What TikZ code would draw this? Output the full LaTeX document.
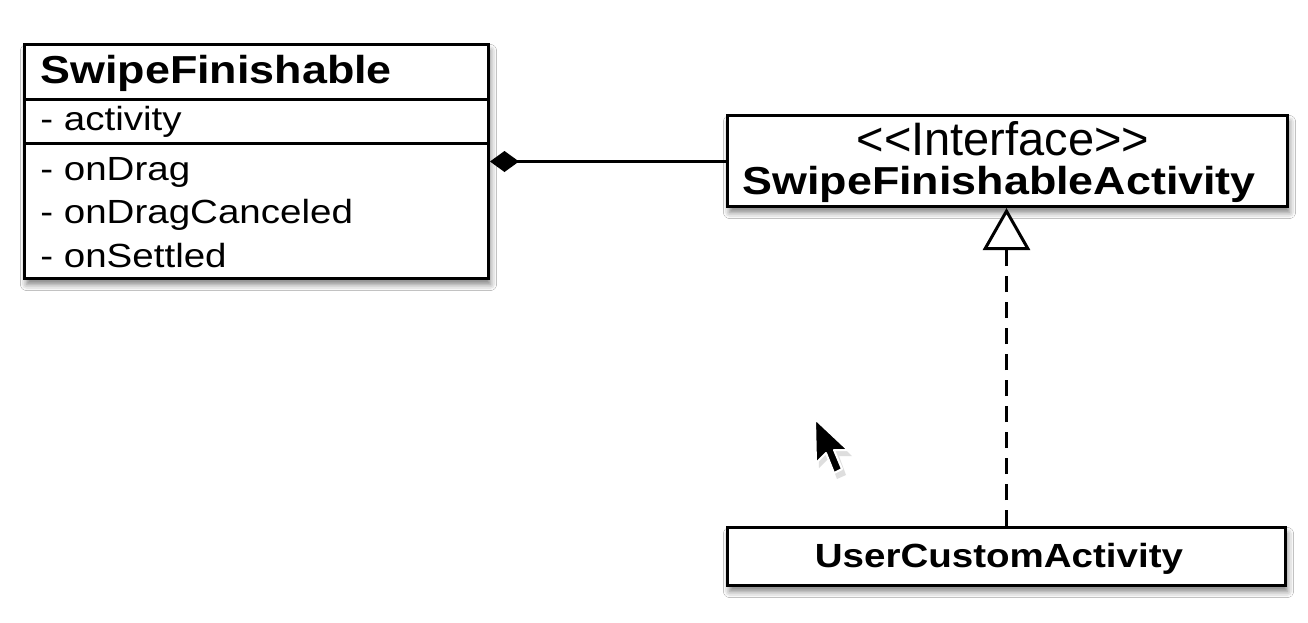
\documentclass[tikz,border=0pt]{standalone}
\usepackage{fontspec}
\setmainfont{Liberation Sans}
\newfontfamily\widefont[FakeStretch=1.15]{Liberation Sans}
\usetikzlibrary{arrows.meta,shadows.blur}
\begin{document}
\begin{tikzpicture}[x=0.5pt,y=-0.5pt,
  umlbox/.style={draw=black, line width=1.5pt, fill=white, inner sep=0pt, anchor=north west,
    blur shadow={shadow xshift=1pt, shadow yshift=-3pt, shadow blur radius=3pt, shadow opacity=50}},
  txt/.style={inner sep=0pt, anchor=base west},
  titlef/.style={font=\widefont\bfseries\fontsize{19.5}{23}\selectfont},
  memberf/.style={font=\widefont\fontsize{16.75}{20}\selectfont},
  stereof/.style={font=\fontsize{23.5}{27}\selectfont},
  smallbold/.style={font=\widefont\bfseries\fontsize{16.75}{20}\selectfont},
  link/.style={line width=1.5pt},
  dashlink/.style={line width=1.5pt, dash pattern=on 8pt off 5pt}
]
\useasboundingbox (0,0) rectangle (1308,622);
\fill[white] (0,0) rectangle (1308,622);

% SwipeFinishable class
\node[umlbox, minimum width=232pt, minimum height=117pt] (sf) at (23,43) {};
\draw[line width=1.5pt] (sf.west |- 0,99) -- (sf.east |- 0,99);
\draw[line width=1.5pt] (sf.west |- 0,143) -- (sf.east |- 0,143);
\node[txt, titlef] (sftitle) at (40,83) {SwipeFinishable};
\node[txt, memberf] (sfattr) at (40,130) {- activity};
\node[txt, memberf] (sfm1) at (40,180) {- onDrag};
\node[txt, memberf] (sfm2) at (40,223) {- onDragCanceled};
\node[txt, memberf] (sfm3) at (40,267) {- onSettled};

% Interface
\node[umlbox, minimum width=280pt, minimum height=45.5pt] (sfa) at (726,114) {};
\node[inner sep=0pt, anchor=base, stereof] (stereo) at (1003,155) {<{}<Interface>{}>};
\node[txt, titlef] (sfaname) at (742,194) {SwipeFinishableActivity};

% UserCustomActivity
\node[umlbox, minimum width=279pt, minimum height=29pt] (uca) at (726,526) {};
\node[inner sep=0pt, anchor=base, smallbold] (ucaname) at (999,567) {UserCustomActivity};

% connectors
\draw[link, {Diamond[length=14.5pt,width=10.5pt]}-] (sf.east) -- (sf.east -| sfa.west);
\draw[dashlink, -{Triangle[open, fill=white, length=21pt, width=23.5pt]}] (uca.north) -- (uca.north |- sfa.south);

% mouse cursor
\fill[black!25, opacity=0.5] (818,423) -- (819,468) -- (829,458) -- (837,479) -- (846,475) -- (839,456) -- (852,456) -- cycle;
\draw[white, line width=1pt, fill=black, line join=round] (815,419) -- (816,463) -- (826,453) -- (834,473) -- (842,469) -- (834,450) -- (848,450) -- cycle;
\end{tikzpicture}
\end{document}
